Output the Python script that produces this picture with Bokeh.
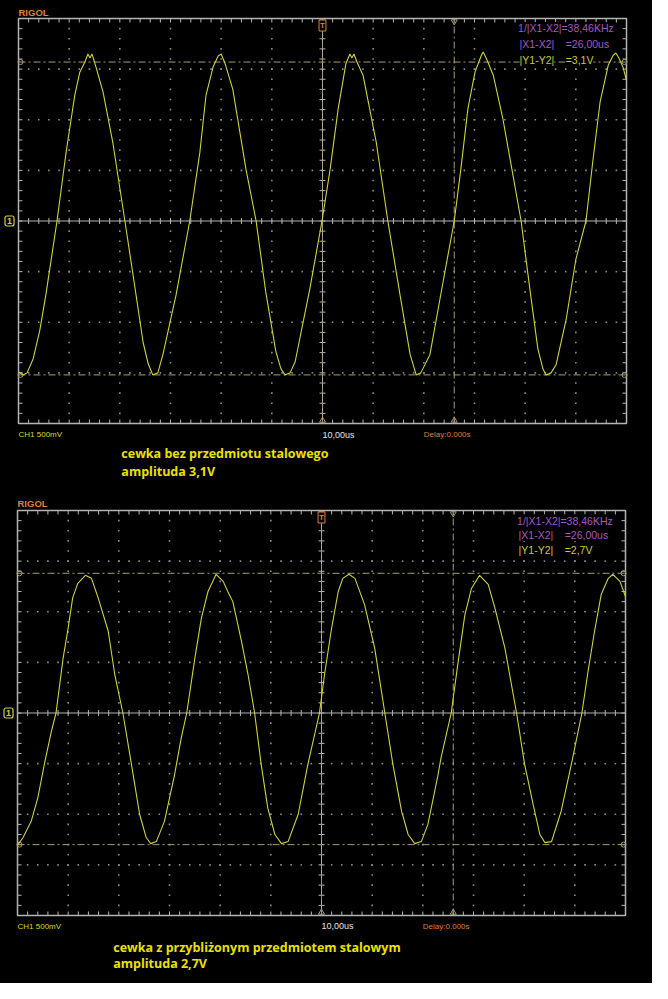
import numpy as np
from bokeh.plotting import figure
from bokeh.models import Range1d, Label
from bokeh.layouts import column
from bokeh.embed import file_html
from bokeh.resources import INLINE

# ---------------- data ----------------
time_div_us = [-60, -50, -40, -30, -20, -10, 0, 10, 20, 30, 40, 50, 60]
volt_div_V = [-2.0, -1.5, -1.0, -0.5, 0.0, 0.5, 1.0, 1.5, 2.0]
sub_per_div = 5

# top screen: coil without steel object
top_t = [-60.0, -59.1, -58.3, -57.1, -55.8, -54.6, -52.4, -50.6, -48.9, -47.9, -46.9, -46.3,
         -45.9, -45.5, -44.7, -43.3, -41.4, -39.0, -37.4, -35.4, -34.4, -33.5, -32.5, -31.5,
         -28.9, -26.2, -24.2, -23.0, -21.6, -20.6, -20.0, -19.2, -17.7, -15.1, -13.1, -11.2,
         -9.2, -8.2, -7.4, -6.4, -5.4, -2.5, -0.1, 1.5, 3.1, 4.6, 5.4, 5.8, 6.2, 6.8, 8.0,
         10.6, 12.9, 15.3, 17.3, 18.5, 19.4, 21.2, 23.8, 26.0, 27.3, 28.7, 30.1, 31.3, 31.7,
         32.3, 33.7, 35.6, 37.6, 39.2, 41.0, 42.5, 43.5, 44.1, 45.1, 46.1, 48.1, 50.0, 52.0,
         53.4, 54.8, 56.4, 57.3, 57.9, 58.5, 59.3, 60.0]
top_v = [-1.49, -1.52, -1.50, -1.36, -1.08, -0.73, 0.00, 0.68, 1.24, 1.47, 1.57, 1.65,
         1.61, 1.65, 1.52, 1.27, 0.78, 0.00, -0.53, -1.20, -1.41, -1.52, -1.50, -1.32,
         -0.73, 0.00, 0.68, 1.24, 1.52, 1.63, 1.65, 1.55, 1.30, 0.51, 0.00, -0.70,
         -1.29, -1.46, -1.52, -1.50, -1.39, -0.67, 0.00, 0.51, 1.11, 1.55, 1.65, 1.61, 1.65, 1.57, 1.44,
         0.78, 0.00, -0.73, -1.32, -1.52, -1.50, -1.32, -0.60, 0.00, 0.51, 1.11, 1.47, 1.63, 1.67,
         1.61, 1.44, 1.01, 0.45, 0.00, -0.70, -1.26, -1.46, -1.52, -1.50, -1.42, -0.97, -0.38, 0.00,
         0.61, 1.18, 1.54, 1.63, 1.66, 1.61, 1.52, 1.39]
top_cursor_t = [0.0, 26.0]
top_cursor_v = [1.57, -1.52]
top_meas = ["1/|X1-X2|=38,46KHz", "|X1-X2|", "=26,00us", "|Y1-Y2|", "=3,1V"]
top_caption = ["cewka bez przedmiotu stalowego", "amplituda 3,1V"]

# bottom screen: coil with a steel object nearby
bot_t = [-59.9, -58.9, -57.3, -56.0, -54.6, -53.3, -52.4, -51.0, -50.0, -49.1, -48.1, -46.6,
         -45.4, -44.1, -42.1, -40.8, -39.2, -37.5, -35.9, -34.6, -33.7, -32.6, -31.0, -29.0,
         -27.7, -26.6, -25.0, -23.7, -22.4, -20.8, -19.4, -18.5, -17.5, -15.8, -14.5, -13.2,
         -11.9, -10.6, -9.2, -7.9, -6.6, -4.6, -2.7, -0.4, 0.6, 1.9, 3.3, 4.2, 5.4, 6.6, 8.5,
         10.5, 12.5, 14.1, 15.8, 17.1, 18.4, 19.7, 21.0, 23.0, 23.6, 25.6, 26.9, 28.3, 29.6,
         31.2, 32.9, 34.2, 36.2, 38.5, 40.1, 41.8, 43.1, 44.1, 45.4, 47.3, 49.3, 51.4, 52.6,
         53.9, 55.2, 56.6, 57.5, 58.9, 60.0]
bot_v = [-1.30, -1.23, -1.07, -0.84, -0.48, -0.18, 0.00, 0.54, 0.84, 1.14, 1.28, 1.36,
         1.33, 1.14, 0.81, 0.38, 0.00, -0.51, -1.00, -1.23, -1.29, -1.27, -1.07, -0.61,
         -0.25, 0.00, 0.54, 0.94, 1.20, 1.37, 1.30, 1.20, 1.10, 0.71, 0.38, 0.00,
         -0.51, -0.94, -1.20, -1.29, -1.27, -1.00, -0.51, 0.00, 0.38, 0.81, 1.20, 1.33, 1.37, 1.33, 1.07,
         0.64, 0.00, -0.51, -0.97, -1.20, -1.29, -1.27, -1.10, -0.61, -0.44, 0.00, 0.48, 0.97, 1.23,
         1.36, 1.27, 1.04, 0.64, 0.00, -0.51, -0.91, -1.20, -1.28, -1.27, -0.97, -0.51, 0.00, 0.41,
         0.81, 1.17, 1.33, 1.37, 1.30, 1.15]
bot_cursor_t = [0.0, 26.0]
bot_cursor_v = [1.38, -1.30]
bot_meas = ["1/|X1-X2|=38,46KHz", "|X1-X2|", "=26,00us", "|Y1-Y2|", "=2,7V"]
bot_caption = ["cewka z przybliżonym przedmiotem stalowym", "amplituda 2,7V"]

status_texts = ["CH1 500mV", "10,00us", "Delay:0.000s"]

# ---------------- styles / geometry ----------------
BG = "#000000"
BORDER = "#b4b4b4"
DOT = "#8a8a8a"
CURSOR = "#a89c74"
TRACE = "#d2d236"
ORANGE = "#dc8232"
PURPLE = "#a458c4"
YEL_TXT = "#cccc2c"
CAPTION = "#ece000"
SANS = "Liberation Sans"

FIG_W = 652
GRAT_W, GRAT_H = 608, 405           # graticule size in pixels
T0, T1 = time_div_us[0], time_div_us[-1]
V0, V1 = volt_div_V[0], volt_div_V[-1]
PX_T = GRAT_W / (T1 - T0)           # px per us
PX_V = GRAT_H / (V1 - V0)           # px per V


def sub_ticks(divs):
    n = (len(divs) - 1) * sub_per_div + 1
    return [round(float(x), 3) for x in np.linspace(divs[0], divs[-1], n)]


minor_t = sub_ticks(time_div_us)
minor_v = sub_ticks(volt_div_V)


def txt(p, x, y, text, dx=0, dy=0, color="#e0e0e0", size="9px", font=SANS,
        style="normal", align="left", **kw):
    p.add_layout(Label(x=x, y=y, x_offset=dx, y_offset=dy, text=text, text_color=color,
                       text_font=font, text_font_size=size, text_font_style=style,
                       text_align=align, text_baseline="middle", **kw))


def panel(height, left_px, top_px, t, v, cur_t, cur_v, meas, caption, cap_x, offs):
    x_start = T0 - left_px / PX_T
    x_end = T0 + (FIG_W - left_px) / PX_T
    y_end = V1 + top_px / PX_V
    y_start = V1 - (height - top_px) / PX_V
    p = figure(width=FIG_W, height=height, output_backend="svg", toolbar_location=None,
               x_range=Range1d(x_start, x_end), y_range=Range1d(y_start, y_end),
               x_axis_location=None, y_axis_location=None, min_border=0)
    p.background_fill_color = BG
    p.border_fill_color = BG
    p.outline_line_color = None
    p.xgrid.visible = False
    p.ygrid.visible = False

    tk_t = 4 / PX_V   # 4 px tick on horizontal borders
    tk_v = 4 / PX_T
    # border ticks (inward)
    p.segment(minor_t, [V1] * len(minor_t), minor_t, [V1 - tk_t] * len(minor_t),
              line_color=BORDER, line_width=1)
    p.segment(minor_t, [V0] * len(minor_t), minor_t, [V0 + tk_t] * len(minor_t),
              line_color=BORDER, line_width=1)
    p.segment([T0] * len(minor_v), minor_v, [T0 + tk_v] * len(minor_v), minor_v,
              line_color=BORDER, line_width=1)
    p.segment([T1] * len(minor_v), minor_v, [T1 - tk_v] * len(minor_v), minor_v,
              line_color=BORDER, line_width=1)

    # dotted graticule
    inner_t = [x for x in time_div_us[1:-1] if x != 0]
    inner_v = [y for y in volt_div_V[1:-1] if y != 0]
    dx = [x for x in inner_t for _ in minor_v[1:-1]] + [x for _ in inner_v for x in minor_t[1:-1]]
    dy = [y for _ in inner_t for y in minor_v[1:-1]] + [y for y in inner_v for _ in minor_t[1:-1]]
    p.scatter(dx, dy, marker="square", size=1.6, fill_color=DOT, line_color=None)

    # centre lines with sub-division ticks
    p.segment([T0, 0], [0, V0], [T1, 0], [0, V1], line_color=BORDER, line_width=1)
    c_t = 3 / PX_V
    c_v = 3 / PX_T
    p.segment(minor_t, [-c_t] * len(minor_t), minor_t, [c_t] * len(minor_t),
              line_color=BORDER, line_width=1)
    p.segment([-c_v] * len(minor_v), minor_v, [c_v] * len(minor_v), minor_v,
              line_color=BORDER, line_width=1)

    # border
    p.quad(left=[T0], right=[T1], bottom=[V0], top=[V1], fill_color=None,
           line_color=BORDER, line_width=1.5)

    # cursors
    p.segment([T0] * len(cur_v), cur_v, [T1] * len(cur_v), cur_v, line_color=CURSOR,
              line_width=1, line_dash="7 3 2 3")
    p.segment(cur_t, [V0] * len(cur_t), cur_t, [V1] * len(cur_t), line_color=CURSOR,
              line_width=1, line_dash="7 3 2 3")
    p.scatter([T0 + 2 / PX_T] * len(cur_v) + [T1 - 2 / PX_T] * len(cur_v), list(cur_v) * 2,
              marker="circle", size=5, fill_color=None, line_color=CURSOR)
    p.scatter(list(cur_t), [V1 - 3 / PX_V] * len(cur_t), marker="inverted_triangle", size=6,
              fill_color=None, line_color=CURSOR)
    p.scatter(list(cur_t), [V0 + 3 / PX_V] * len(cur_t), marker="triangle", size=6,
              fill_color=None, line_color=CURSOR)

    # trace
    p.line(t, v, line_color=TRACE, line_width=1.1)

    # header
    txt(p, T0, V1, "RIGOL", dy=offs["rigol"], color=ORANGE, size="9.5px", style="bold")
    mk = dict(size="10.5px", background_fill_color=BG)
    txt(p, 38.6, V1, meas[0], dy=offs["rows"][0], color=PURPLE, **mk)
    txt(p, 38.9, V1, meas[1], dy=offs["rows"][1], color=PURPLE, **mk)
    txt(p, 48.0, V1, meas[2], dy=offs["rows"][1], color=PURPLE, **mk)
    txt(p, 38.9, V1, meas[3], dy=offs["rows"][2], color=YEL_TXT, **mk)
    txt(p, 48.0, V1, meas[4], dy=offs["rows"][2], color=YEL_TXT, **mk)
    # markers
    txt(p, T0, 0, "1", dx=-9, color=TRACE, size="9px", style="bold", align="center",
        border_line_color=TRACE, border_line_width=1.2, padding=2, border_radius=2,
        background_fill_color=BG)
    txt(p, 0, V1, "T", dy=-7, color=ORANGE, size="8px", style="bold", align="center",
        border_line_color=ORANGE, padding=1, background_fill_color=BG)
    # status line
    txt(p, T0, V0, status_texts[0], dy=offs["status"], color="#d8d820", size="8px")
    txt(p, 0, V0, status_texts[1], dy=offs["status"], color="#e4e4e4", size="9px")
    txt(p, 20.0, V0, status_texts[2], dy=offs["status"], color=ORANGE, size="8px")
    # captions
    txt(p, cap_x, V0, caption[0], dy=offs["cap"][0], color=CAPTION, size="12.5px",
        font="Open Sans", style="bold")
    txt(p, cap_x, V0, caption[1], dy=offs["cap"][1], color=CAPTION, size="12.5px",
        font="Open Sans", style="bold")
    return p


p_top = panel(490, 18, 18, top_t, top_v, top_cursor_t, top_cursor_v,
              top_meas, top_caption, -39.7,
              dict(rigol=6.5, rows=(-9.5, -25.5, -41), status=-11, cap=(-30, -48)))
p_bot = panel(493, 17, 20, bot_t, bot_v, bot_cursor_t, bot_cursor_v,
              bot_meas, bot_caption, -41.1,
              dict(rigol=7.5, rows=(-10, -24.5, -39.5), status=-10.5, cap=(-32, -48)))

layout = column(p_top, p_bot, spacing=0)
layout.styles = {"background-color": "#000000"}
open("out.html", "w").write(file_html(layout, INLINE))
